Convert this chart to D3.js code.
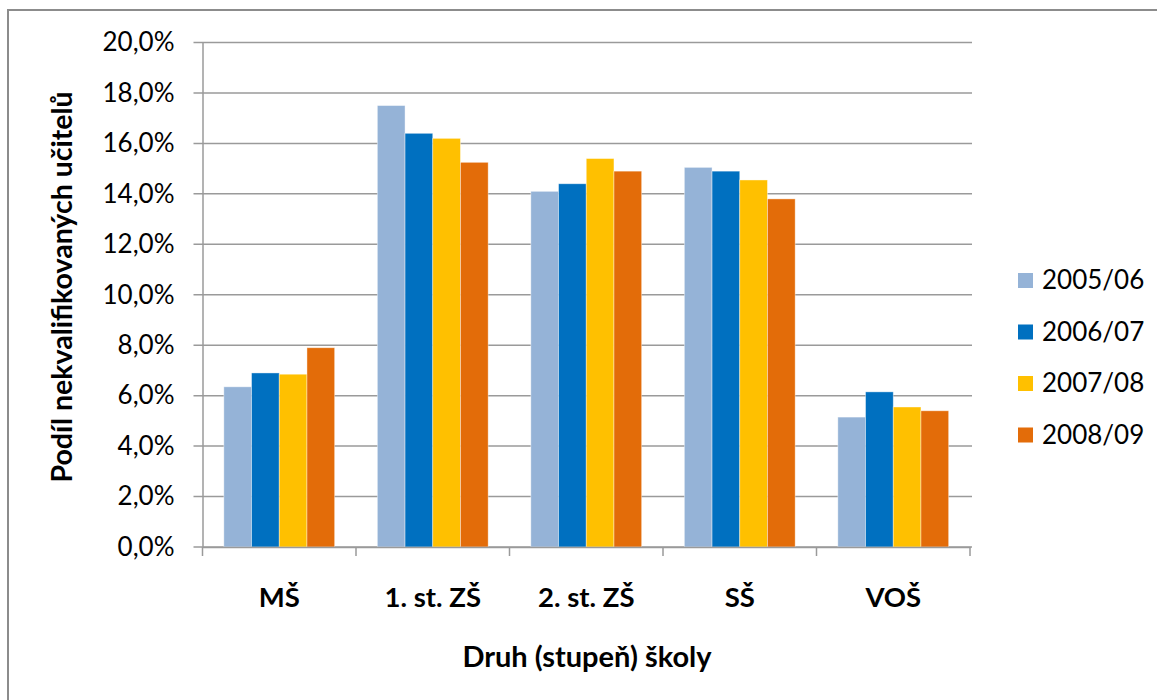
<!DOCTYPE html>
<html><head><meta charset="utf-8">
<script src="https://cdn.jsdelivr.net/npm/d3@7/dist/d3.min.js"></script>
<style>body{margin:0;background:#fff}svg{display:block}text{font-family:Lato,"Open Sans",sans-serif;fill:#000}</style>
</head><body><div id="chart"></div>
<script>
const categories = ["MŠ", "1. st. ZŠ", "2. st. ZŠ", "SŠ", "VOŠ"];
const seriesNames = ["2005/06", "2006/07", "2007/08", "2008/09"];
const s2005 = [6.35, 17.5, 14.1, 15.05, 5.15];
const s2006 = [6.9, 16.4, 14.4, 14.9, 6.15];
const s2007 = [6.85, 16.2, 15.4, 14.55, 5.55];
const s2008 = [7.9, 15.25, 14.9, 13.8, 5.4];
const colors = ["#95B3D7", "#0070C0", "#FFC000", "#E36C09"];
const yTicks = [0, 2, 4, 6, 8, 10, 12, 14, 16, 18, 20];
const yTitle = "Podíl nekvalifikovaných učitelů";
const xTitle = "Druh (stupeň) školy";

(function () {
const series = [s2005, s2006, s2007, s2008];
const W = 1157, H = 700;
const svg = d3.select("#chart").append("svg").attr("width", W).attr("height", H);
svg.append("rect").attr("x", 8).attr("y", 10).attr("width", W + 10).attr("height", H + 10)
  .attr("fill", "#fff").attr("stroke", "#8c8c8c").attr("stroke-width", 2);

const pL = 202.5, pR = 970, pT = 42.5, pB = 547;
const x = d3.scaleBand().domain(categories).range([pL, pR]).paddingInner(0).paddingOuter(0);
const y = d3.scaleLinear().domain([0, 20]).range([pB, pT]);
const inner = d3.scaleBand().domain(d3.range(seriesNames.length)).range([0, x.bandwidth()]).paddingInner(0).paddingOuter(0.77);

svg.append("g").selectAll("line").data(yTicks).join("line")
  .attr("x1", pL - 9).attr("x2", pR + 2).attr("y1", d => y(d)).attr("y2", d => y(d))
  .attr("stroke", "#9a9a9a").attr("stroke-width", 1.5);

const yAxis = d3.axisLeft(y).tickValues(yTicks).tickSize(0).tickPadding(28)
  .tickFormat(d => d3.format(".1f")(d).replace(".", ",") + "%");
const gy = svg.append("g").attr("transform", `translate(${pL},0)`).call(yAxis);
gy.select(".domain").attr("stroke", "#9a9a9a").attr("stroke-width", 1.5);
gy.selectAll("text").attr("font-size", 26).attr("font-family", "Lato").attr("fill", "#000");

const groups = svg.append("g").selectAll("g").data(categories).join("g")
  .attr("transform", d => `translate(${x(d)},0)`);
groups.selectAll("rect").data((c, i) => series.map((s, k) => ({k, v: s[i]}))).join("rect")
  .attr("x", d => inner(d.k)).attr("width", inner.bandwidth())
  .attr("y", d => y(d.v)).attr("height", d => pB - y(d.v))
  .attr("fill", d => colors[d.k]).attr("stroke", "rgba(255,255,255,0.5)").attr("stroke-width", 0.8);

const xAxis = d3.axisBottom(x).tickSize(0).tickPadding(40);
const gx = svg.append("g").attr("transform", `translate(0,${pB})`).call(xAxis);
gx.select(".domain").attr("stroke", "#9a9a9a").attr("stroke-width", 1.5);
gx.selectAll("text").attr("font-size", 27.5).attr("font-weight", "bold").attr("font-family", "Lato").attr("fill", "#000");
const bounds = [pL].concat(categories.map(c => x(c) + x.bandwidth()));
svg.append("g").selectAll("line").data(bounds).join("line")
  .attr("x1", d => d).attr("x2", d => d).attr("y1", pB).attr("y2", pB + 9)
  .attr("stroke", "#9a9a9a").attr("stroke-width", 1.5);

svg.append("text").attr("x", 587).attr("y", 667).attr("text-anchor", "middle")
  .attr("font-size", 29).attr("font-weight", "bold").text(xTitle);
svg.append("text").attr("transform", `translate(72,287) rotate(-90)`).attr("text-anchor", "middle")
  .attr("font-size", 28.5).attr("font-weight", "bold").text(yTitle);

const lg = svg.append("g").selectAll("g").data(seriesNames).join("g")
  .attr("transform", (d, i) => `translate(1018,${280 + i * 51.5})`);
lg.append("rect").attr("x", 0).attr("y", -7).attr("width", 15).attr("height", 15).attr("fill", (d, i) => colors[i]);
lg.append("text").attr("x", 24).attr("y", 0).attr("dy", "0.35em").attr("font-size", 26).text(d => d);
})();
</script></body></html>
